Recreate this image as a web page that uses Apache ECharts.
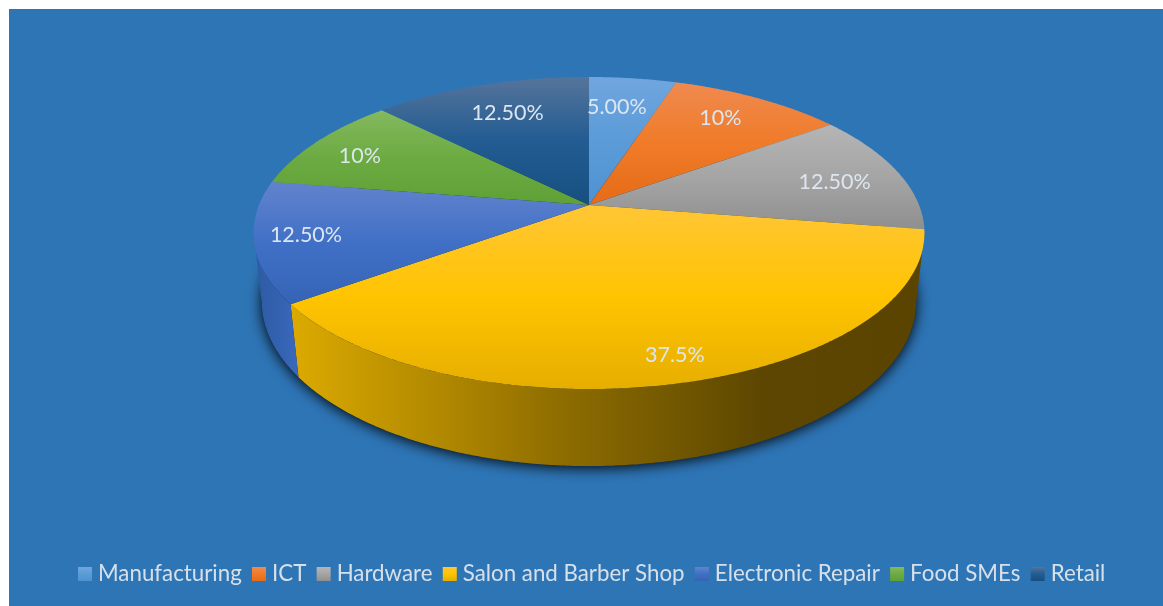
<!DOCTYPE html>
<html>
<head>
<meta charset="utf-8">
<style>
  html, body { margin: 0; padding: 0; background: #fff; }
  #chart { width: 1163px; height: 606px; }
</style>
<script src="https://cdn.jsdelivr.net/npm/echarts@6/dist/echarts.min.js"></script>
</head>
<body>
<div id="chart"></div>
<script>
// Share of businesses by sector
const categories = ['Manufacturing', 'ICT', 'Hardware', 'Salon and Barber Shop', 'Electronic Repair', 'Food SMEs', 'Retail'];
const shares = [5, 10, 12.5, 37.5, 12.5, 10, 12.5];
const shareLabels = ['5.00%', '10%', '12.50%', '37.5%', '12.50%', '10%', '12.50%'];

// Placement of each percentage label: fraction of the disc radius, and degrees off the slice's middle
const labelRadius = [0.74, 0.78, 0.78, 0.87, 0.85, 0.815, 0.74];
const labelTurn = [-1.6, -1.3, 2.2, -1.2, 0.5, -1.8, 0.5];

// Top-face gradient stops per sector: highlight, base, lowlight
const faceColors = [
  ['#70a6de', '#5b9bd8', '#4f92d2'],
  ['#ef8a50', '#f07b28', '#e56b18'],
  ['#b5b5b5', '#a5a5a5', '#8f8f8f'],
  ['#ffc636', '#ffc400', '#e6ae00'],
  ['#6283cd', '#4070c6', '#3564b6'],
  ['#84b95e', '#6cab42', '#5fa037'],
  ['#56749b', '#225c92', '#174f80']
];

// Side-wall gradient stops (left to right) per sector
const wallColors = [
  null, null, null,
  [[0, '#dcaa00'], [0.45, '#8a6a00'], [0.75, '#5c4600'], [1, '#5a4400']],
  [[0, '#2c5aa2'], [1, '#3a68bd']],
  null, null
];

// Perspective disc: apex of the slices, scale and foreshortening
const apexX = 589, apexY = 205, scaleX = 330, scaleY = 151, tilt = -0.1795;
// Wall extrusion runs towards a far vanishing point below the disc
const vanishY = 3033, wallDepth = 0.0239;
// Angle where the disc rim turns from front-facing to hidden
const limbAngle = Math.acos(tilt) * 180 / Math.PI;

function project(r, deg) {
  const a = deg * Math.PI / 180;
  const x = r * Math.sin(a), y = -r * Math.cos(a);
  const w = 1 + tilt * y;
  return [apexX + scaleX * x / w, apexY + scaleY * y / w, w];
}
function extrude(p) {
  const t = wallDepth / p[2];
  return [p[0] + t * (apexX - p[0]), p[1] + t * (vanishY - p[1])];
}
function arc(from, to) {
  const pts = [];
  const n = Math.max(2, Math.ceil(Math.abs(to - from) * 2));
  for (let i = 0; i <= n; i++) pts.push(project(1, from + (to - from) * i / n));
  return pts;
}
function vertical(stops) {
  return new echarts.graphic.LinearGradient(0, 0, 0, 1, [
    { offset: 0, color: stops[0] }, { offset: 0.5, color: stops[1] }, { offset: 1, color: stops[2] }
  ]);
}

const total = shares.reduce((a, b) => a + b, 0);
const startAngles = [];
shares.reduce((sum, v, i) => { startAngles[i] = sum / total * 360; return sum + v; }, 0);

function renderSector(i) {
  const from = startAngles[i], to = from + shares[i] / total * 360;
  const children = [];
  const wallFrom = Math.max(from, limbAngle), wallTo = Math.min(to, 360 - limbAngle);
  if (wallColors[i] && wallTo > wallFrom) {
    const rim = arc(wallFrom, wallTo);
    const lower = rim.map(extrude).reverse();
    children.push({
      type: 'polygon',
      shape: { points: rim.map(p => [p[0], p[1]]).concat(lower) },
      style: {
        fill: new echarts.graphic.LinearGradient(0, 0, 1, 0,
          wallColors[i].map(s => ({ offset: s[0], color: s[1] })))
      }
    });
  }
  const rim = arc(from, to).map(p => [p[0], p[1]]);
  children.push({
    type: 'polygon',
    shape: { points: [[apexX, apexY]].concat(rim) },
    style: { fill: vertical(faceColors[i]) }
  });
  return { type: 'group', children };
}

const series = [{
  // Soft shadow cast by the base of the disc
  type: 'custom',
  coordinateSystem: 'none',
  silent: true,
  z: 1,
  data: [[0]],
  renderItem: () => ({
    type: 'polygon',
    shape: { points: arc(0, 360).map(extrude) },
    style: { fill: '#102c48', shadowBlur: 14, shadowColor: 'rgba(0,0,0,0.95)', shadowOffsetY: 2 }
  })
}];

categories.forEach((name, i) => {
  series.push({
    name,
    type: 'custom',
    coordinateSystem: 'none',
    silent: true,
    z: 2,
    itemStyle: { color: vertical(faceColors[i]) },
    data: [[shares[i]]],
    renderItem: () => renderSector(i)
  });
});

series.push({
  // Percentage labels sit above all faces
  type: 'custom',
  coordinateSystem: 'none',
  silent: true,
  z: 3,
  data: shares.map(v => [v]),
  renderItem: (params) => {
    const i = params.dataIndex;
    const mid = startAngles[i] + shares[i] / total * 180 + labelTurn[i];
    const p = project(labelRadius[i], mid);
    return {
      type: 'text',
      x: p[0], y: p[1],
      style: {
        text: shareLabels[i],
        fill: '#dce6f0',
        font: '21.5px Lato',
        align: 'center',
        verticalAlign: 'middle'
      }
    };
  }
});

const chart = echarts.init(document.getElementById('chart'), null, { renderer: 'canvas' });
chart.setOption({
  animation: false,
  backgroundColor: '#ffffff',
  graphic: [{
    type: 'rect',
    z: -10,
    shape: { x: 9, y: 9, width: 1154, height: 597 },
    style: { fill: '#2e75b6' },
    silent: true
  }],
  legend: {
    data: categories.map(name => ({ name, icon: 'rect' })),
    left: 78,
    top: 563,
    itemWidth: 14,
    itemHeight: 14,
    itemGap: 10.3,
    padding: 0,
    selectedMode: false,
    textStyle: { color: '#d6e0ea', fontFamily: 'Lato', fontSize: 22.3, padding: [0, 0, 0, 1] }
  },
  series
});
</script>
</body>
</html>
